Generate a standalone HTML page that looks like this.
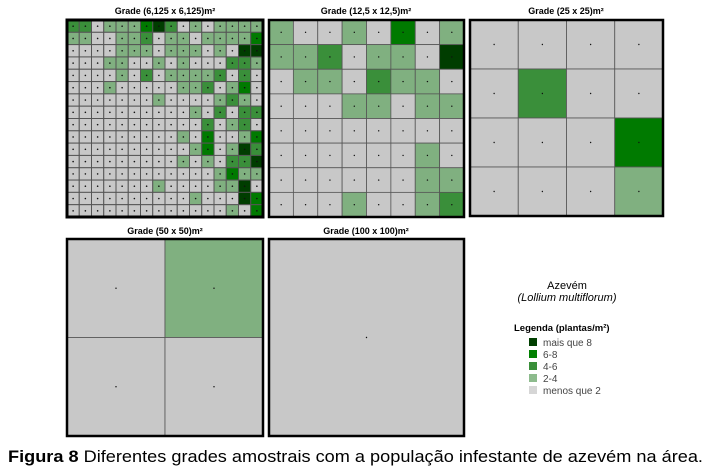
<!DOCTYPE html><html><head><meta charset="utf-8"><style>
body{margin:0;background:#fff;width:711px;height:470px;overflow:hidden;font-family:"Liberation Sans",sans-serif}
</style></head><body>
<svg id="s" width="711" height="470" xmlns="http://www.w3.org/2000/svg" font-family="Liberation Sans, sans-serif">
<text x="165" y="14" font-size="9" font-weight="bold" text-anchor="middle">Grade (6,125 x 6,125)m²</text>
<text x="366" y="14" font-size="9" font-weight="bold" text-anchor="middle">Grade (12,5 x 12,5)m²</text>
<text x="566" y="14" font-size="9" font-weight="bold" text-anchor="middle">Grade (25 x 25)m²</text>
<text x="165" y="234" font-size="9" font-weight="bold" text-anchor="middle">Grade (50 x 50)m²</text>
<text x="366" y="234" font-size="9" font-weight="bold" text-anchor="middle">Grade (100 x 100)m²</text>
<text x="567" y="289" font-size="11" text-anchor="middle">Azevém</text>
<text x="567" y="301" font-size="11" font-style="italic" text-anchor="middle">(Lollium multiflorum)</text>
<text x="514" y="331" font-size="9.5" font-weight="bold">Legenda (plantas/m²)</text>
<rect x="529" y="338" width="8" height="8" fill="#003f00"/><text x="543" y="346" font-size="10" fill="#444">mais que 8</text>
<rect x="529" y="350" width="8" height="8" fill="#008000"/><text x="543" y="358" font-size="10" fill="#444">6-8</text>
<rect x="529" y="362" width="8" height="8" fill="#3a8f3a"/><text x="543" y="370" font-size="10" fill="#444">4-6</text>
<rect x="529" y="374" width="8" height="8" fill="#8dbb8d"/><text x="543" y="382" font-size="10" fill="#444">2-4</text>
<rect x="529" y="386" width="8" height="8" fill="#d6d6d6"/><text x="543" y="394" font-size="10" fill="#444">menos que 2</text>
<text x="8" y="462" font-size="17" textLength="695" lengthAdjust="spacingAndGlyphs"><tspan font-weight="bold">Figura 8</tspan> Diferentes grades amostrais com a população infestante de azevém na área.</text>
<g id="g"></g>
</svg>
<script>
var C=["#c8c8c8","#80b080","#3a8f3a","#007a00","#003d00"];
var g1=["2201113420101111","1100112011011113","0000111011101044","0001100101000221","0000102011112020","0001000001120130","0000000100001210","0000000000102022","0000000000020120","0000000001030013","0000000000130142","0000000001010224","0000000000001311","0000000100001140","0000000000100043","0000000000000103"];
var g2=["10010301","11201104","01102110","00011011","00000000","00000010","00000011","00010012"];
var g3=["0000","0200","0003","0001"];
var g4=["01","00"];
var g5=["0"];
var ns="http://www.w3.org/2000/svg",G=document.getElementById("g");
function el(t,a){var e=document.createElementNS(ns,t);for(var k in a)e.setAttribute(k,a[k]);G.appendChild(e);}
function panel(x,y,w,h,d){var n=d.length,cw=w/n,ch=h/n;
for(var r=0;r<n;r++)for(var c=0;c<n;c++){
el("rect",{x:x+c*cw,y:y+r*ch,width:cw,height:ch,fill:C[+d[r][c]],stroke:"#555","stroke-width":n>8?1:0.8});
el("circle",{cx:x+c*cw+cw/2,cy:y+r*ch+ch/2,r:n>8?0.8:0.7,fill:"#111"});}
el("rect",{x:x,y:y,width:w,height:h,fill:"none",stroke:"#000","stroke-width":n>8?3:2.5});}
panel(67,20,196,197,g1);panel(269,20,195,197,g2);panel(470,20,193,196,g3);panel(67,239,196,197,g4);panel(269,239,195,197,g5);
</script>
</body></html>
